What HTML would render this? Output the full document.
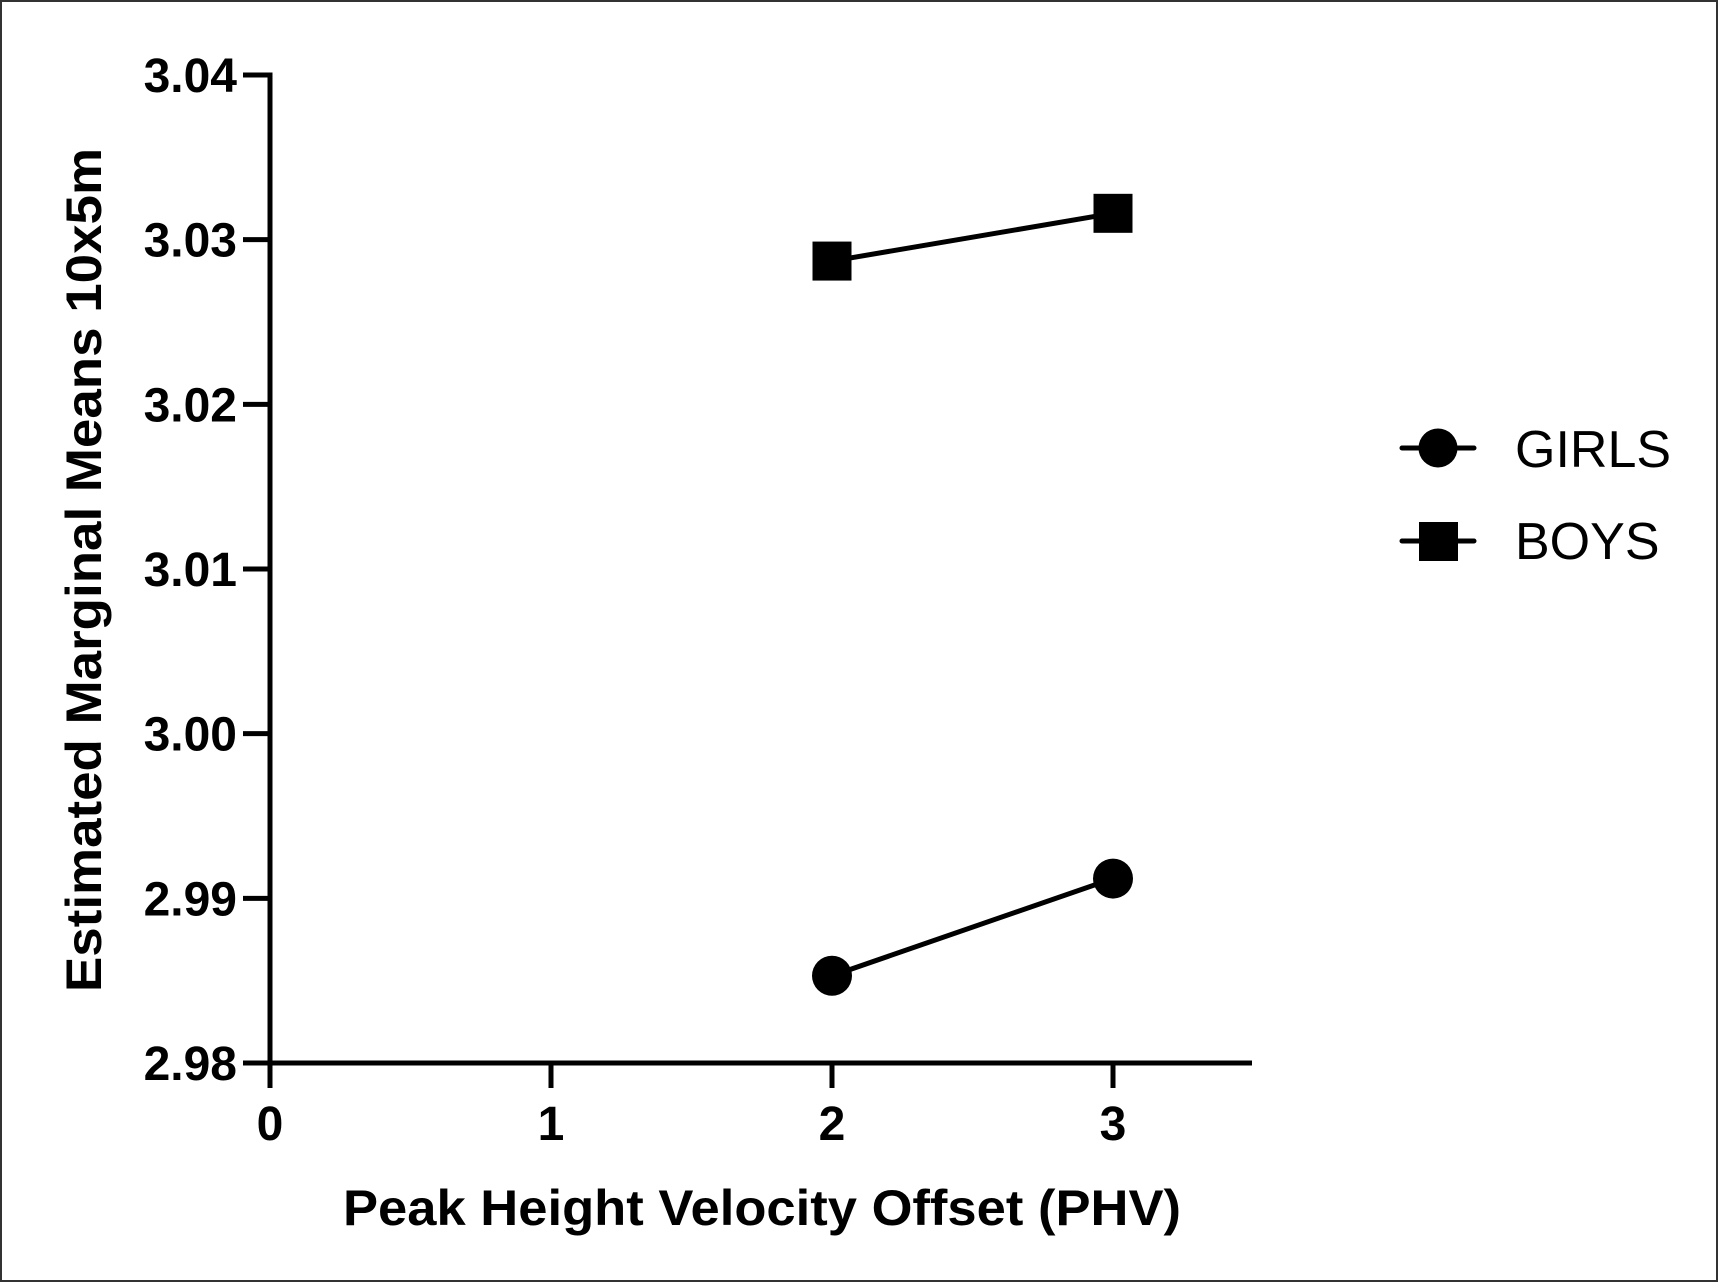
<!DOCTYPE html>
<html><head><meta charset="utf-8"><style>
html,body{margin:0;padding:0;background:#fff;}
svg{display:block;}
text{font-family:"Liberation Sans",Arial,sans-serif;}
</style></head><body>
<svg id="chart" width="1718" height="1282" viewBox="0 0 1718 1282" xmlns="http://www.w3.org/2000/svg">
<rect x="1" y="1" width="1716" height="1280" fill="#fff" stroke="#333" stroke-width="2"/>
<g id="axes"></g>
<g id="series"></g>
<text transform="translate(101,570) rotate(-90)" text-anchor="middle" font-size="50" font-weight="bold" textLength="844" lengthAdjust="spacingAndGlyphs">Estimated Marginal Means 10x5m</text>
<text x="762" y="1225" text-anchor="middle" font-size="50" font-weight="bold" textLength="838" lengthAdjust="spacingAndGlyphs">Peak Height Velocity Offset (PHV)</text>
<g>
  <g>
    <line x1="1402" y1="448" x2="1474" y2="448" stroke="#000" stroke-width="5" stroke-linecap="round"/>
    <circle cx="1438" cy="448" r="19.5" fill="#000"/>
    <text x="1515" y="467" font-size="52">GIRLS</text>
  </g>
  <g>
    <line x1="1402" y1="541" x2="1474" y2="541" stroke="#000" stroke-width="5" stroke-linecap="round"/>
    <rect x="1419" y="522" width="39" height="39" fill="#000"/>
    <text x="1515" y="559" font-size="52">BOYS</text>
  </g>
</g>
</svg>
<script>
const xCategories = [2, 3];
const girlsValues = [2.9853, 2.9912];
const boysValues = [3.0287, 3.0316];
const yTicks = [2.98, 2.99, 3.00, 3.01, 3.02, 3.03, 3.04];
const yTickLabels = ["2.98", "2.99", "3.00", "3.01", "3.02", "3.03", "3.04"];
const xTicks = [0, 1, 2, 3];
const xTickLabels = ["0", "1", "2", "3"];

const NS = "http://www.w3.org/2000/svg";
const X0 = 270, XU = 281, XEND = 1252;
const YTOP = 75, YBOT = 1063, YMIN = 2.98, YMAX = 3.04;
function xScale(v){ return X0 + v * XU; }
function yScale(v){ return YBOT - (v - YMIN) / (YMAX - YMIN) * (YBOT - YTOP); }
function mk(tag, attrs, parent){ const e = document.createElementNS(NS, tag); for (const k in attrs) e.setAttribute(k, attrs[k]); parent.appendChild(e); return e; }

const axes = document.getElementById('axes');
let e = mk('line', {x1:X0, y1:YTOP, x2:X0, y2:YBOT, stroke:'#000', 'stroke-width':5, 'stroke-linecap':'square'}, axes);


e = mk('line', {x1:X0, y1:YBOT, x2:XEND, y2:YBOT, stroke:'#000', 'stroke-width':5}, axes);



yTicks.forEach((t, i) => {
  const y = yScale(t);
  const tk = mk('line', {x1:243, y1:y, x2:X0, y2:y, stroke:'#000', 'stroke-width':5}, axes);
  
  
  const tx = mk('text', {x:237, y:y + 17, 'text-anchor':'end', 'font-size':48, 'font-weight':'bold'}, axes);
  tx.textContent = yTickLabels[i];
  
  
});
xTicks.forEach((t, i) => {
  const x = xScale(t);
  const tk = mk('line', {x1:x, y1:YBOT, x2:x, y2:1088, stroke:'#000', 'stroke-width':5}, axes);
  
  
  const tx = mk('text', {x:x, y:1140, 'text-anchor':'middle', 'font-size':48, 'font-weight':'bold'}, axes);
  tx.textContent = xTickLabels[i];
  
  
});

const series = document.getElementById('series');
function drawSeries(vals, shape, name){
  const g = mk('g', {}, series);
  
  
  const pts = vals.map((v, i) => xScale(xCategories[i]) + ',' + yScale(v)).join(' ');
  const pl = mk('polyline', {points:pts, fill:'none', stroke:'#000', 'stroke-width':5}, g);
  
  
  vals.forEach((v, i) => {
    const cx = xScale(xCategories[i]), cy = yScale(v);
    let m;
    if (shape === 'circle') m = mk('circle', {cx:cx, cy:cy, r:20, fill:'#000'}, g);
    else m = mk('rect', {x:cx - 19.5, y:cy - 19.5, width:39, height:39, fill:'#000'}, g);
    
    
  });
}
drawSeries(girlsValues, 'circle', 'girls');
drawSeries(boysValues, 'square', 'boys');
</script>
</body></html>
